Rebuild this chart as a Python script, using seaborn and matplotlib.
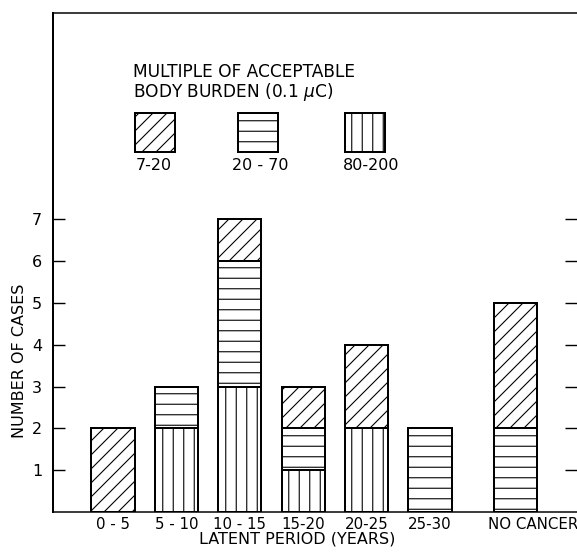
import matplotlib
matplotlib.use("Agg")
import matplotlib.pyplot as plt
from matplotlib.patches import Rectangle
import pandas as pd
import seaborn as sns

# Cases per latent period, split by multiple of acceptable body burden
periods = ["0 - 5", "5 - 10", "10 - 15", "15-20", "20-25", "25-30", "NO CANCER"]
burden_7_20 = [2, 0, 1, 1, 2, 0, 3]
burden_20_70 = [0, 1, 3, 1, 0, 2, 2]
burden_80_200 = [0, 2, 3, 1, 2, 0, 0]
burden_labels = ["7-20", "20 - 70", "80-200"]
y_ticks = [1, 2, 3, 4, 5, 6, 7]

# Layout: bar centres and label centres on the x axis (NO CANCER set apart)
bar_x = [0, 1, 2, 3, 4, 5, 6.35]
label_x = [0, 1, 2, 3, 4, 5, 6.62]

# dpi chosen so the hatch tile gives ~10 px stripes and ~14 px diagonals
DPI = 126
W, H = 577, 555


def pt(px):
    """pixels -> points at the figure dpi"""
    return px * 72.0 / DPI


sns.set_theme(style="white")
plt.rcParams["font.family"] = ["DejaVu Sans"]
plt.rcParams["hatch.linewidth"] = pt(1.1)
plt.rcParams["hatch.color"] = "black"

HATCH_DIAG, HATCH_HORIZ, HATCH_VERT = "///", "--", "||"

fig = plt.figure(figsize=(W / DPI, H / DPI), dpi=DPI)
fig.patch.set_facecolor("white")
ax = fig.add_axes([53 / W, 1 - 512 / H, (577 - 53) / W, (512 - 13) / H])
ax.set_facecolor("white")

low = burden_80_200
mid = [a + b for a, b in zip(burden_80_200, burden_20_70)]
top = [a + b for a, b in zip(mid, burden_7_20)]
df = pd.DataFrame({"pos": bar_x, "low": low, "mid": mid, "top": top})

# Stack by overdrawing: full height first, then the lower segments on top
bar_style = dict(native_scale=True, width=0.68, color="white", edgecolor="black",
                 linewidth=pt(2.0), errorbar=None, ax=ax)
for col, hatch in [("top", HATCH_DIAG), ("mid", HATCH_HORIZ), ("low", HATCH_VERT)]:
    sns.barplot(data=df, x="pos", y=col, hatch=hatch, **bar_style)

ax.set_xlim((53 - 113) / 63.4, (577 - 113) / 63.4)
ax.set_ylim(0, 11.93)

ax.set_xticks(label_x)
ax.set_xticklabels(periods, fontsize=pt(15))
ax.set_yticks(y_ticks)
ax.set_yticklabels([str(v) for v in y_ticks], fontsize=pt(16))
ax.tick_params(axis="x", length=0, pad=pt(5), colors="black")
ax.tick_params(axis="y", direction="in", length=pt(12), width=pt(1.4),
               left=True, right=True, labelright=False, pad=pt(11), colors="black")

for side in ["left", "top", "bottom"]:
    ax.spines[side].set_visible(True)
    ax.spines[side].set_color("black")
ax.spines["left"].set_linewidth(pt(2.0))
ax.spines["top"].set_linewidth(pt(1.5))
ax.spines["bottom"].set_linewidth(pt(1.5))
ax.spines["right"].set_visible(False)

ax.set_xlabel("LATENT PERIOD (YEARS)", fontsize=pt(16), color="black")
ax.xaxis.set_label_coords((297 - 53) / 524, (512 - 531) / 499)
ax.set_ylabel("NUMBER OF CASES", fontsize=pt(16), color="black")
ax.yaxis.set_label_coords((27 - 53) / 524, (512 - 361) / 499)

# Key for the hatch patterns
fig.text(133 / W, 1 - 63 / H, "MULTIPLE OF ACCEPTABLE\nBODY BURDEN (0.1 $\\mu$C)",
         ha="left", va="top", fontsize=pt(17), linespacing=0.98, color="black")
key_boxes = [135, 238, 345]
key_text_x = [154, 260, 371]
for x0, tx, hatch, lab in zip(key_boxes, key_text_x,
                              [HATCH_DIAG, HATCH_HORIZ, HATCH_VERT], burden_labels):
    fig.add_artist(Rectangle((x0 / W, 1 - 152 / H), 40 / W, 39 / H,
                             transform=fig.transFigure, facecolor="white",
                             edgecolor="black", linewidth=pt(2.0), hatch=hatch))
    fig.text(tx / W, 1 - 165 / H, lab, ha="center", va="center",
             fontsize=pt(16), color="black")

fig.savefig("out.png", dpi=DPI, facecolor="white")
